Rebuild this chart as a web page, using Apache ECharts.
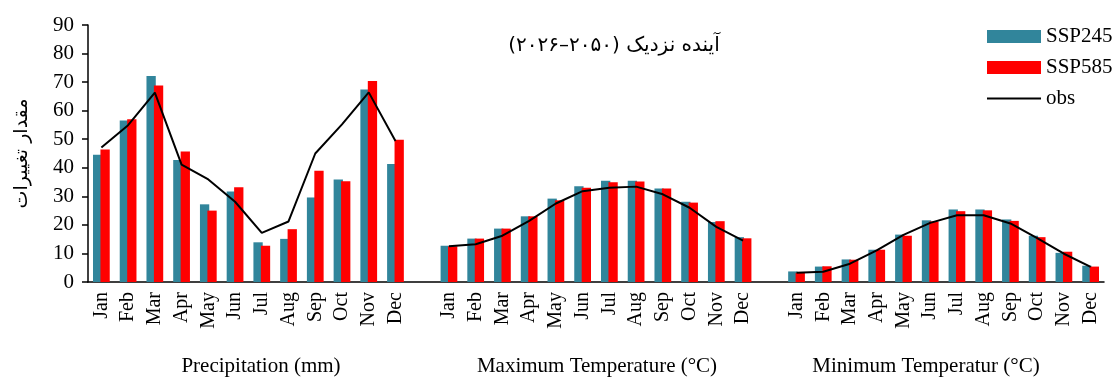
<!DOCTYPE html>
<html>
<head>
<meta charset="utf-8">
<script src="https://cdn.jsdelivr.net/npm/echarts@6/dist/echarts.min.js"></script>
<style>
  html, body { margin: 0; padding: 0; background: #fff; }
  #chart { width: 1120px; height: 379px; }
</style>
</head>
<body>
<div id="chart"></div>
<script>
// Month labels shared by the three variable groups
const months = ['Jan','Feb','Mar','Apr','May','Jun','Jul','Aug','Sep','Oct','Nov','Dec'];

// Precipitation (mm)
const precipSSP245 = [44.6, 56.6, 72.1, 42.7, 27.2, 31.7, 13.9, 15.1, 29.6, 35.9, 67.4, 41.3];
const precipSSP585 = [46.4, 57.0, 68.8, 45.7, 25.0, 33.2, 12.7, 18.5, 39.0, 35.3, 70.4, 49.8];
const precipObs    = [47.1, 54.9, 66.3, 41.1, 35.9, 28.1, 17.2, 21.2, 45.0, 55.2, 66.4, 49.4];

// Maximum temperature (°C)
const tmaxSSP245 = [12.7, 15.2, 18.7, 23.0, 29.2, 33.5, 35.5, 35.5, 32.7, 28.1, 21.0, 15.7];
const tmaxSSP585 = [12.5, 15.2, 18.7, 23.0, 28.6, 33.0, 34.9, 35.2, 32.7, 27.8, 21.3, 15.3];
const tmaxObs    = [12.5, 13.2, 16.2, 21.4, 27.5, 31.8, 33.0, 33.4, 30.7, 26.0, 19.3, 14.5];

// Minimum temperature (°C)
const tminSSP245 = [3.7, 5.4, 7.9, 11.3, 16.6, 21.6, 25.4, 25.4, 21.9, 16.2, 10.2, 5.7];
const tminSSP585 = [3.2, 5.5, 7.8, 11.3, 16.2, 21.2, 24.8, 25.1, 21.4, 15.7, 10.6, 5.4];
const tminObs    = [3.2, 3.6, 6.4, 11.1, 16.5, 20.7, 23.4, 23.4, 20.5, 15.4, 9.9, 5.3];

// Y axis ticks
const yTicks = { min: 0, max: 90, interval: 10 };

// Group captions and heading
const groupNames = ['Precipitation (mm)', 'Maximum Temperature (°C)', 'Minimum Temperatur (°C)'];
const heading = 'آینده نزدیک (۲۰۵۰–۲۰۲۶)';
const yName = 'مقدار تغییرات';
const seriesNames = ['SSP245', 'SSP585', 'obs'];

// One empty slot separates consecutive groups on the shared category axis
function joinGroups(a, b, c, gap) {
  return [].concat(a, [gap], b, [gap], c);
}
const categories = joinGroups(months, months, months, '');
const ssp245 = joinGroups(precipSSP245, tmaxSSP245, tminSSP245, null);
const ssp585 = joinGroups(precipSSP585, tmaxSSP585, tminSSP585, null);
const obs    = joinGroups(precipObs, tmaxObs, tminObs, null);

const serif = '"Liberation Serif", "Times New Roman", serif';
const arabic = '"DejaVu Sans", sans-serif';
const RLE = '\u202B', PDF = '\u202C';

// Plain horizontal stroke used as the legend key of the observed line
const lineIcon = 'path://M0,0 L54,0 L54,2 L0,2 Z';

const chart = echarts.init(document.getElementById('chart'), null, { renderer: 'canvas' });

chart.setOption({
  animation: false,
  backgroundColor: '#ffffff',
  grid: { left: 88, right: 16, top: 25, bottom: 97, containLabel: false },
  legend: {
    orient: 'vertical',
    left: 987,
    top: 26,
    padding: 0,
    itemWidth: 54,
    itemHeight: 13,
    itemGap: 10,
    data: [
      { name: seriesNames[0], icon: 'rect' },
      { name: seriesNames[1], icon: 'rect' },
      { name: seriesNames[2], icon: lineIcon }
    ],
    textStyle: { fontFamily: serif, fontSize: 21, color: '#000' }
  },
  xAxis: {
    type: 'category',
    data: categories,
    boundaryGap: true,
    axisLine: { show: true, lineStyle: { color: '#000', width: 1.5 } },
    axisTick: { show: false },
    axisLabel: {
      interval: 0,
      rotate: 90,
      margin: 10,
      color: '#000',
      fontFamily: serif,
      fontSize: 20
    },
    splitLine: { show: false }
  },
  yAxis: {
    type: 'value',
    min: yTicks.min,
    max: yTicks.max,
    interval: yTicks.interval,
    name: yName,
    nameLocation: 'middle',
    nameRotate: 90,
    nameGap: 56,
    nameTextStyle: { fontFamily: arabic, fontSize: 19, color: '#000' },
    axisLine: { show: true, lineStyle: { color: '#000', width: 1.5 } },
    axisTick: { show: true, inside: false, length: 6, lineStyle: { color: '#000', width: 1.5 } },
    axisLabel: { color: '#000', fontFamily: serif, fontSize: 21, margin: 14 },
    splitLine: { show: false }
  },
  series: [
    {
      name: seriesNames[0],
      type: 'bar',
      data: ssp245,
      barWidth: 9.3,
      barGap: '-20%',
      itemStyle: { color: '#31859B' }
    },
    {
      name: seriesNames[1],
      type: 'bar',
      data: ssp585,
      barWidth: 9.3,
      itemStyle: { color: '#FF0000' }
    },
    {
      name: seriesNames[2],
      type: 'line',
      data: obs,
      symbol: 'none',
      connectNulls: false,
      lineStyle: { color: '#000', width: 2 },
      itemStyle: { color: '#000' },
      z: 5
    }
  ],
  graphic: [
    {
      type: 'text',
      x: 614, y: 46,
      style: {
        text: RLE + heading + PDF,
        font: '20px ' + arabic,
        fill: '#000',
        textAlign: 'center',
        textVerticalAlign: 'middle'
      }
    },
    {
      type: 'text', x: 261, y: 366,
      style: { text: groupNames[0], font: '21px ' + serif, fill: '#000', textAlign: 'center', textVerticalAlign: 'middle' }
    },
    {
      type: 'text', x: 597, y: 366,
      style: { text: groupNames[1], font: '21px ' + serif, fill: '#000', textAlign: 'center', textVerticalAlign: 'middle' }
    },
    {
      type: 'text', x: 926, y: 366,
      style: { text: groupNames[2], font: '21px ' + serif, fill: '#000', textAlign: 'center', textVerticalAlign: 'middle' }
    }
  ]
});
</script>
</body>
</html>
